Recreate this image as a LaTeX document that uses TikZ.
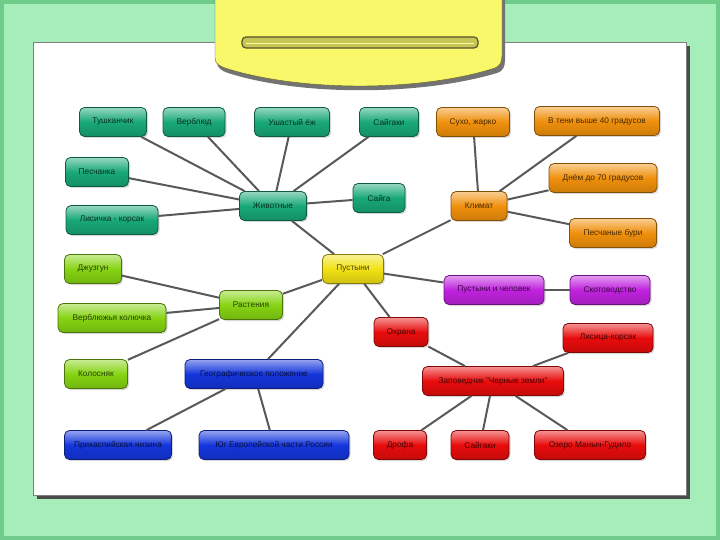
\documentclass[tikz,border=0pt]{standalone}
\usepackage{fontspec}
\setmainfont{Liberation Sans}
\usetikzlibrary{shadows}
\definecolor{frame}{HTML}{A6EEB9}
\definecolor{framedark}{HTML}{6FCB8A}
\definecolor{clipyellow}{HTML}{F8F86A}
\definecolor{animal}{HTML}{18A877}
\definecolor{climate}{HTML}{F0900C}
\definecolor{plant}{HTML}{86D412}
\definecolor{core}{HTML}{F2E214}
\definecolor{people}{HTML}{C022DE}
\definecolor{guard}{HTML}{E80C0C}
\definecolor{place}{HTML}{1436DC}
\tikzset{
  leaf/.style={draw=#1!55!black,line width=0.8pt,rounded corners=5pt,
    minimum height=29pt,inner sep=2pt,
    top color=#1!45!white,bottom color=#1!85!black,middle color=#1,
    drop shadow={opacity=.3,shadow xshift=1.5pt,shadow yshift=-1.5pt},
    font=\fontsize{8.3}{10}\selectfont,text=#1!30!black},
  link/.style={draw=black!65,line width=2pt}
}

\begin{document}
\begin{tikzpicture}[x=1pt,y=-1pt]
  \useasboundingbox (0,0) rectangle (720,540);
  % board and paper
  \fill[framedark] (0,0) rectangle (720,540);
  \fill[frame] (4,4) rectangle (716,536);
  \fill[black!70] (37,46) rectangle (690,499);
  \fill[white,draw=black!50] (33,42) rectangle (686,495);
  % clip
  \fill[black!55] (217,0) -- (217,62) .. controls (217,68) and (222,71) .. (228,73)
    .. controls (300,96) and (420,96) .. (497,73) .. controls (503,71) and (505,67) .. (505,60) -- (505,0) -- cycle;
  \path[fill=clipyellow,draw=black!40!olive] (215,0) -- (215,58) .. controls (215,64) and (220,66) .. (225,68)
    .. controls (300,92) and (420,92) .. (495,68) .. controls (500,66) and (502,62) .. (502,55) -- (502,0);
  \filldraw[fill=clipyellow!80!black,draw=black!50!olive,line width=1.2pt,rounded corners=4pt] (242,37) rectangle (478,48);
  \draw[clipyellow!60!white,line width=1pt] (246,44) -- (474,44);

  % centre
  \node[leaf=core,minimum width=61pt] (des) at (353,269) {Пустыни};

  % animals
  \node[leaf=animal,minimum width=67pt] (anim) at (273,206) {Животные};
  \node[leaf=animal,minimum width=67pt] (tush) at (113,122) {Тушканчик};
  \node[leaf=animal,minimum width=62pt] (camel) at (194,122) {Верблюд};
  \node[leaf=animal,minimum width=75pt] (hedge) at (292,122) {Ушастый ёж};
  \node[leaf=animal,minimum width=59pt] (saig1) at (389,122) {Сайгаки};
  \node[leaf=animal,minimum width=63pt] (gerb) at (97,172) {Песчанка};
  \node[leaf=animal,minimum width=92pt] (fox1) at (112,220) {Лисичка - корсак};
  \node[leaf=animal,minimum width=52pt] (saiga) at (379,198) {Сайга};

  % climate
  \node[leaf=climate,minimum width=56pt] (clim) at (479,206) {Климат};
  \node[leaf=climate,minimum width=73pt] (dry) at (473,122) {Сухо, жарко};
  \node[leaf=climate,minimum width=125pt] (shade) at (597,121) {В тени выше 40 градусов};
  \node[leaf=climate,minimum width=108pt] (day) at (603,178) {Днём до 70 градусов};
  \node[leaf=climate,minimum width=87pt] (storm) at (613,233) {Песчаные бури};

  % plants
  \node[leaf=plant,minimum width=63pt] (plants) at (251,305) {Растения};
  \node[leaf=plant,minimum width=57pt] (dzh) at (93,269) {Джузгун};
  \node[leaf=plant,minimum width=108pt] (thorn) at (112,318) {Верблюжья колючка};
  \node[leaf=plant,minimum width=63pt] (kol) at (96,374) {Колосняк};

  % people
  \node[leaf=people,minimum width=100pt] (man) at (494,290) {Пустыни и человек};
  \node[leaf=people,minimum width=80pt] (cattle) at (610,290) {Скотоводство};

  % protection
  \node[leaf=guard,minimum width=54pt] (prot) at (401,332) {Охрана};
  \node[leaf=guard,minimum width=141pt] (res) at (493,381) {Заповедник "Черные земли"};
  \node[leaf=guard,minimum width=90pt] (fox2) at (608,338) {Лисица-корсак};
  \node[leaf=guard,minimum width=53pt] (bust) at (400,445) {Дрофа};
  \node[leaf=guard,minimum width=58pt] (saig2) at (480,445) {Сайгаки};
  \node[leaf=guard,minimum width=111pt] (lake) at (590,445) {Озеро Маныч-Гудило};

  % position
  \node[leaf=place,minimum width=138pt] (geo) at (254,374) {Географическое положение};
  \node[leaf=place,minimum width=107pt] (low) at (118,445) {Прикаспийская низина};
  \node[leaf=place,minimum width=150pt] (south) at (274,445) {Юг Европейской части России};

  % links
  \foreach \a/\b in {anim/tush,anim/camel,anim/hedge,anim/saig1,anim/gerb,anim/fox1,anim/saiga,anim/des,
    clim/dry,clim/shade,clim/day,clim/storm,clim/des,
    plants/dzh,plants/thorn,plants/kol,plants/des,
    des/man,man/cattle,des/prot,prot/res,res/fox2,res/bust,res/saig2,res/lake,
    des/geo,geo/low,geo/south}
    \draw[link] (\a) -- (\b);
\end{tikzpicture}
\end{document}
